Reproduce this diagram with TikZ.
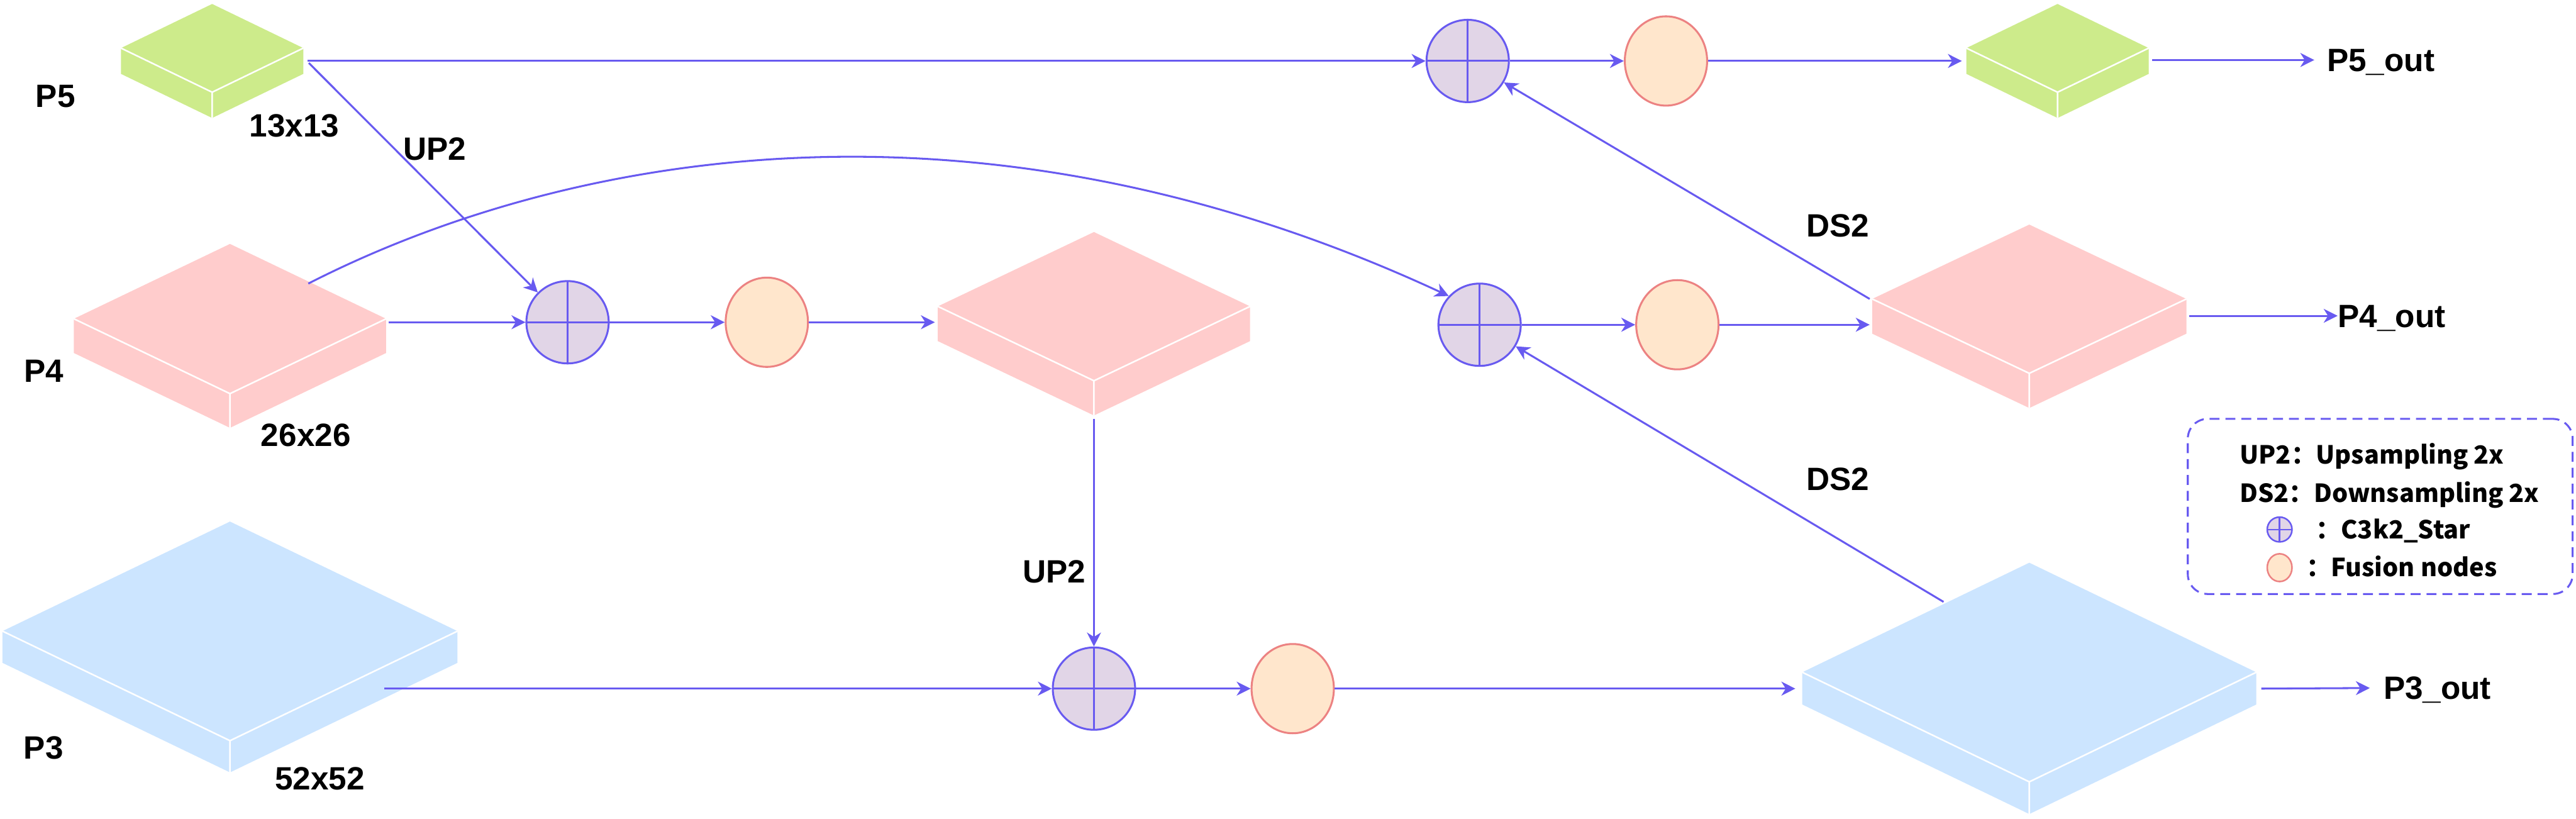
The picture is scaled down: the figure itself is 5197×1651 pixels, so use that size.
\documentclass[tikz,border=0pt]{standalone}
\usepackage{fontspec}
\setmainfont{Liberation Sans}
\newfontfamily\cjk{Noto Sans CJK SC}
\usetikzlibrary{shapes.geometric,arrows.meta}
\definecolor{lineC}{RGB}{104,90,240}
\definecolor{cpFill}{RGB}{225,213,231}
\definecolor{fuFill}{RGB}{255,230,204}
\definecolor{fuLine}{RGB}{236,130,130}
\definecolor{gSlab}{RGB}{205,235,139}
\definecolor{pSlab}{RGB}{255,204,204}
\definecolor{bSlab}{RGB}{204,229,255}
% #1 cx, #2 top y, #3 half width, #4 top-to-corner, #5 thickness, #6 colour
\newcommand{\drawslab}[6]{%
  \fill[#6] (#1,#2) -- (#1+#3,#2+#4) -- (#1+#3,#2+#4+#5) -- (#1,#2+2*#4+#5)
     -- (#1-#3,#2+#4+#5) -- (#1-#3,#2+#4) -- cycle;
  \draw[white,line width=0.9pt] (#1-#3,#2+#4) -- (#1,#2+2*#4) -- (#1+#3,#2+#4)
     (#1,#2+2*#4) -- (#1,#2+2*#4+#5);
}
\begin{document}
\begin{tikzpicture}[x=0.01cm,y=-0.01cm,
  cp/.style={circle,draw=lineC,fill=cpFill,line width=1.1pt,minimum size=1.66cm,inner sep=0pt,
    path picture={\draw[lineC,line width=1.1pt] (path picture bounding box.north) -- (path picture bounding box.south)
      (path picture bounding box.west) -- (path picture bounding box.east);}},
  cpsmall/.style={circle,draw=lineC,fill=cpFill,line width=0.9pt,minimum size=0.5cm,inner sep=0pt,
    path picture={\draw[lineC,line width=0.9pt] (path picture bounding box.north) -- (path picture bounding box.south)
      (path picture bounding box.west) -- (path picture bounding box.east);}},
  fu/.style={ellipse,draw=fuLine,fill=fuFill,line width=1.1pt,minimum width=1.66cm,minimum height=1.8cm,inner sep=0pt},
  fusmall/.style={ellipse,draw=fuLine,fill=fuFill,line width=0.9pt,minimum width=0.5cm,minimum height=0.56cm,inner sep=0pt},
  conn/.style={draw=lineC,line width=1.1pt,-{Stealth[length=8pt,width=8pt,inset=2.5pt]}},
  lbl/.style={font=\fontsize{18.5}{22}\selectfont\bfseries,inner sep=0pt,text height=13.3pt,text depth=0pt},
  leg/.style={font=\cjk\fontsize{14.3}{17}\selectfont\bfseries,inner sep=0pt,text height=10.4pt,text depth=0pt,anchor=west},
  legbox/.style={draw=lineC,line width=1.1pt,dash pattern=on 0.2cm off 0.12cm,rounded corners=0.4cm,
    minimum width=7.76cm,minimum height=3.53cm,inner sep=0pt}
]
\useasboundingbox (0,0) rectangle (5197,1651);

% ---------- slabs ----------
\drawslab{428}{8}{184}{89}{52}{gSlab}
\drawslab{4151}{8}{184}{89}{52}{gSlab}
\drawslab{464}{492}{315}{151}{69}{pSlab}
\drawslab{2207}{468}{315}{150}{70}{pSlab}
\drawslab{4094}{453}{317}{150}{70}{pSlab}
\drawslab{464}{1052}{459}{221}{64}{bSlab}
\drawslab{4094}{1135}{458}{221}{65}{bSlab}

% slab connection points
\coordinate (P5a) at (620,123);
\coordinate (P5b) at (623,127);
\coordinate (P4a) at (784,650);
\coordinate (P4b) at (622,572);
\coordinate (Min) at (1886,650);
\coordinate (Mout) at (2207,845);
\coordinate (P5oin) at (3958,123);
\coordinate (P5oout) at (4342,121);
\coordinate (P4oin) at (3772,655);
\coordinate (P4oout) at (4416,637);
\coordinate (P4oup) at (3772,603);
\coordinate (P3a) at (775,1389);
\coordinate (P3oin) at (3622,1389);
\coordinate (P3oout) at (4562,1389);
\coordinate (P3oup) at (3921,1214);

% ---------- operator nodes ----------
\node[cp] (CP5) at (2961,123) {};
\node[fu] (F5) at (3361,123) {};
\node[cp] (CP4L) at (1145,650) {};
\node[fu] (F4L) at (1547,650) {};
\node[cp] (CP4R) at (2985,655) {};
\node[fu] (F4R) at (3384,655) {};
\node[cp] (CP3) at (2207,1389) {};
\node[fu] (F3) at (2608,1389) {};

% ---------- labels ----------
\node[lbl] (tP5) at (112,193) {P5};
\node[lbl] (t13) at (594,253) {13x13};
\node[lbl] (tUPa) at (877,300) {UP2};
\node[lbl] (tP4) at (89,747) {P4};
\node[lbl] (t26) at (617,877) {26x26};
\node[lbl] (tP3) at (88,1508) {P3};
\node[lbl] (t52) at (645,1570) {52x52};
\node[lbl] (tUPb) at (2127,1152) {UP2};
\node[lbl] (tDSa) at (3708,454) {DS2};
\node[lbl] (tDSb) at (3708,966) {DS2};
\node[lbl,anchor=west] (oP5) at (4694,121) {P5\_out};
\node[lbl,anchor=west] (oP4) at (4716,637) {P4\_out};
\node[lbl,anchor=west] (oP3) at (4808,1387) {P3\_out};

% ---------- connectors ----------
\draw[conn] (P5a) -- (CP5);
\draw[conn] (P5b) -- (CP4L);
\draw[conn] (P4a) -- (CP4L);
\draw[conn] (P4b) .. controls (1131,312) and (1962,151) .. (CP4R.137);
\draw[conn] (CP5) -- (F5);
\draw[conn] (F5) -- (P5oin);
\draw[conn, shorten >=0.25cm] (P5oout) -- (oP5);
\draw[conn] (CP4L) -- (F4L);
\draw[conn] (F4L) -- (Min);
\draw[conn] (Mout) -- (CP3);
\draw[conn] (CP4R) -- (F4R);
\draw[conn] (F4R) -- (P4oin);
\draw[conn] (P4oout) -- (oP4);
\draw[conn] (P4oup) -- (CP5);
\draw[conn] (P3a) -- (CP3);
\draw[conn] (CP3) -- (F3);
\draw[conn] (F3) -- (P3oin);
\draw[conn] (P3oup) -- (CP4R);
\draw[conn, shorten >=0.27cm] (P3oout) -- (oP3);

% ---------- legend ----------
\node[legbox] (legend) at (4802,1021.5) {};
\node[leg] (l1) at (4518,917) {UP2：Upsampling 2x};
\node[leg] (l2) at (4518,995) {DS2：Downsampling 2x};
\node[cpsmall] (lcp) at (4599,1068) {};
\node[leg] (l3) at (4672,1068) {：C3k2\_Star};
\node[fusmall] (lfu) at (4599,1145) {};
\node[leg] (l4) at (4652,1145) {：Fusion nodes};
\end{tikzpicture}
\end{document}
